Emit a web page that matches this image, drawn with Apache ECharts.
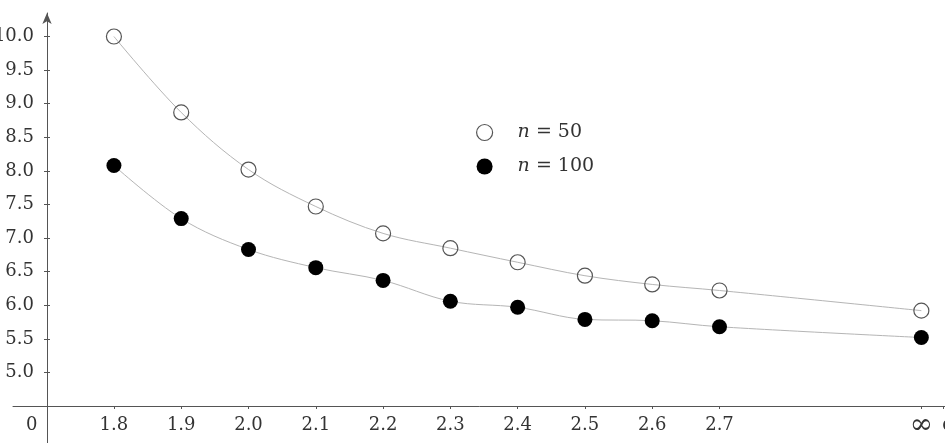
<!DOCTYPE html>
<html>
<head>
<meta charset="utf-8">
<script src="https://cdn.jsdelivr.net/npm/echarts@6/dist/echarts.min.js"></script>
<style>
  html, body { margin: 0; padding: 0; background: #fff; }
  #chart { width: 945px; height: 443px; }
</style>
</head>
<body>
<div id="chart"></div>
<script>
// alpha values; infinity is drawn at 3.0
const alphaValues = [1.8, 1.9, 2.0, 2.1, 2.2, 2.3, 2.4, 2.5, 2.6, 2.7, 3.0];
const n50 = [10.0, 8.87, 8.02, 7.47, 7.07, 6.85, 6.64, 6.44, 6.31, 6.22, 5.92];
const n100 = [8.08, 7.29, 6.83, 6.56, 6.37, 6.06, 5.97, 5.79, 5.77, 5.68, 5.52];

const xTickValues = [1.8, 1.9, 2.0, 2.1, 2.2, 2.3, 2.4, 2.5, 2.6, 2.7, 3.0, 3.033];
const xLabelValues = [1.678, 1.8, 1.9, 2.0, 2.1, 2.2, 2.3, 2.4, 2.5, 2.6, 2.7, 3.0, 3.04];
const xLabelText = ["0", "1.8", "1.9", "2.0", "2.1", "2.2", "2.3", "2.4", "2.5", "2.6", "2.7", "{big|\u221E}", "\u03B1"];
const yTickValues = [5.0, 5.5, 6.0, 6.5, 7.0, 7.5, 8.0, 8.5, 9.0, 9.5, 10.0];

const FONT = "'DejaVu Serif', 'Liberation Serif', serif";
const INK = "#333";
const LINE = "#b5b5b5";

const chart = echarts.init(document.getElementById("chart"));

const pair = (ys) => ys.map((y, i) => [alphaValues[i], y]);
const xLabel = (v) => {
  const i = xLabelValues.findIndex((x) => Math.abs(x - v) < 1e-6);
  return i >= 0 ? xLabelText[i] : "";
};

const baseY = {
  type: "value", min: 3.95, max: 10.35, position: "left", offset: -34,
  splitLine: { show: false }
};

chart.setOption({
  animation: false,
  backgroundColor: "#fff",
  grid: { left: 13, right: -10, top: 13, bottom: 0, containLabel: false, outerBoundsMode: "none" },
  legend: {
    orient: "vertical", left: 471, top: 118, itemGap: 15,
    itemWidth: 16, itemHeight: 16,
    textStyle: {
      fontFamily: FONT, fontSize: 19, color: INK, padding: [0, 0, 0, 20],
      rich: { i: { fontFamily: FONT, fontStyle: "italic", fontSize: 19, color: INK } }
    },
    formatter: (name) => "{i|n} = " + name.replace("n=", ""),
    data: [
      { name: "n=50", icon: "circle", itemStyle: { color: "rgba(0,0,0,0)", borderColor: "#555", borderWidth: 1.2 } },
      { name: "n=100", icon: "circle", itemStyle: { color: "#000", borderWidth: 0 } }
    ]
  },
  xAxis: {
    type: "value", min: 1.65, max: 3.05, position: "bottom", offset: -37,
    splitLine: { show: false },
    axisLine: { lineStyle: { color: "#555", width: 1 } },
    axisTick: { customValues: xTickValues, length: 3, inside: false, lineStyle: { color: "#555" } },
    axisLabel: {
      customValues: xLabelValues, formatter: xLabel, margin: 10,
      fontFamily: FONT, fontSize: 18, color: INK,
      rich: { big: { fontFamily: FONT, fontSize: 28, lineHeight: 20, color: INK } }
    }
  },
  yAxis: [
    Object.assign({}, baseY, {
      axisLine: { show: true, symbol: ["none", "arrow"], symbolSize: [7, 11], lineStyle: { color: "#555", width: 1 } },
      axisTick: { show: true, customValues: yTickValues, length: 3, lineStyle: { color: "#555" } },
      axisLabel: {
        customValues: yTickValues, formatter: (v) => v.toFixed(1), margin: 13,
        fontFamily: FONT, fontSize: 18, color: INK
      }
    }),
    Object.assign({}, baseY, {
      axisLine: { show: false },
      axisTick: { show: true, inside: true, customValues: yTickValues, length: 3, lineStyle: { color: "#555" } },
      axisLabel: { show: false }
    })
  ],
  series: [
    {
      name: "n=50", type: "line", data: pair(n50), smooth: 0.35,
      symbol: "circle", symbolSize: 15,
      lineStyle: { color: LINE, width: 1 },
      itemStyle: { color: "rgba(0,0,0,0)", borderColor: "#555", borderWidth: 1.2 },
      z: 3
    },
    {
      name: "n=100", type: "line", data: pair(n100), smooth: 0.35,
      symbol: "circle", symbolSize: 15,
      lineStyle: { color: LINE, width: 1 },
      itemStyle: { color: "#000", borderWidth: 0 },
      z: 3
    }
  ]
});
</script>
</body>
</html>
